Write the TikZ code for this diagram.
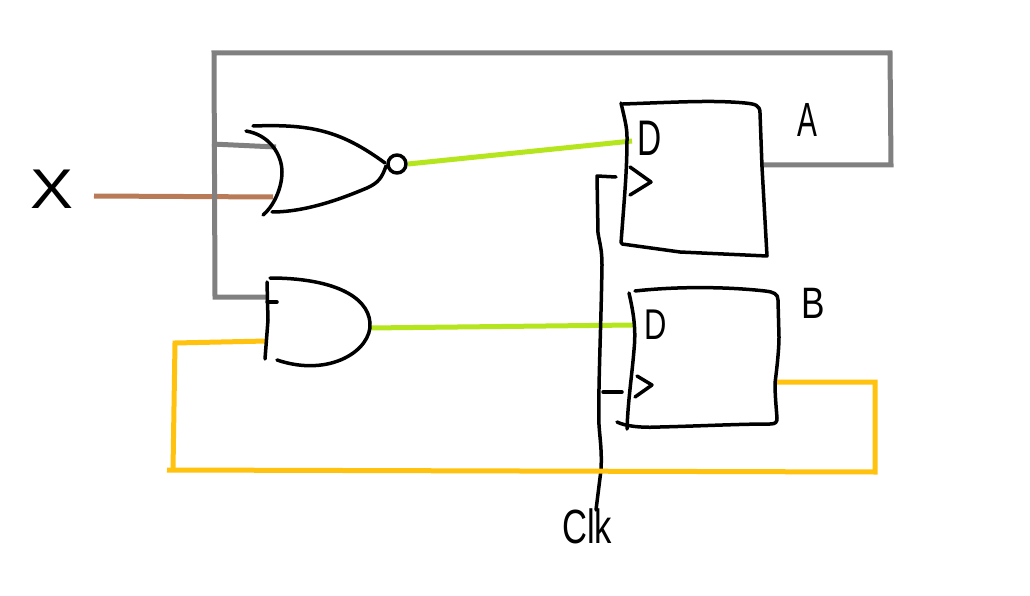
\documentclass[tikz,border=0pt]{standalone}
\usepackage{fontspec}
\setmainfont{Liberation Sans}
\definecolor{wgray}{HTML}{808080}
\definecolor{wbrown}{HTML}{B97A57}
\definecolor{wgreen}{HTML}{B5E61D}
\definecolor{wyellow}{HTML}{FFC20E}
\tikzset{
  ink/.style={draw=black,line width=3.5pt,line cap=round,line join=round},
  wire/.style={line width=5pt,line join=miter},
  lbl/.style={inner sep=0pt,text=black},
}
\newcommand{\lab}[3]{\fontsize{#1}{#1}\selectfont\scalebox{#2}[1]{#3}}
\begin{document}
\begin{tikzpicture}[x=1pt,y=-1pt]
\useasboundingbox[fill=white] (0,0) rectangle (1030,596);
% named ends
\coordinate (xout) at (94,196);
\coordinate (norA) at (276,147);
\coordinate (norB) at (273,197);
\coordinate (norO) at (408,164);
\coordinate (andA) at (267,297);
\coordinate (andB) at (267,341);
\coordinate (andO) at (369,328);
\coordinate (faD) at (632,141);
\coordinate (fbD) at (634,325);
\coordinate (fbQ) at (775,382);
\coordinate (faQ) at (760,165);
\coordinate (tap) at (212,144);
% brown, green wires
\draw[wire,wbrown] (xout) -- (norB);
\draw[wire,wgreen] (norO) -- (faD);
\draw[wire,wgreen] (andO) -- (fbD);
% gray wires
\draw[wire,wgray] (faQ) -- (891,165) -- (890,53) -- (214,53) -- (215,297) -- (andA);
\draw[wire,wgray] (tap) -- (norA);
% clock
\draw[ink] (616,177) -- (597,176) -- (598,233) .. controls (600,245) and (602,250) .. (602,265) .. controls (601,330) and (598,390) .. (599,425) .. controls (600,440) and (602,450) .. (601,470) -- (596,510);
\draw[ink] (603,392) -- (622,392);
% yellow wires
\draw[wire,wyellow] (andB) -- (175,343) -- (173,470);
\draw[wire,wyellow] (167,470) -- (875,472) -- (875,382) -- (fbQ);
% NOR gate
\draw[ink] (253,126) .. controls (310,124) and (340,130) .. (385,163);
\draw[ink] (272,212) .. controls (310,212) and (350,195) .. (367,188) .. controls (378,183) and (382,178) .. (386,166);
\draw[ink] (246,131) .. controls (270,135) and (282,155) .. (282,172) .. controls (282,190) and (272,208) .. (263,215);
\draw[ink] (397,164) circle (9);
% AND gate
\draw[ink] (267,282) -- (268,320) -- (265,359);
\draw[ink] (267,302) -- (277,302);
\draw[ink] (270,278) .. controls (330,278) and (368,295) .. (370,323) .. controls (372,350) and (330,378) .. (277,360);
% flip-flop A
\draw[ink] (621,103) .. controls (625,120) and (627,128) .. (627,137) .. controls (627,170) and (625,190) .. (621,243);
\draw[ink] (622,244) -- (680,252) -- (767,256) -- (762,167) -- (760,113) .. controls (760,105) and (755,104) .. (745,103) .. controls (713,100) and (680,102) .. (623,104);
\draw[ink] (630,167) -- (651,182) -- (630,195);
% flip-flop B
\draw[ink] (629,293) .. controls (634,315) and (636,330) .. (634,350) .. controls (632,375) and (628,400) .. (627,429);
\draw[ink] (617,422) .. controls (625,426) and (640,428) .. (660,427) .. controls (700,426) and (740,424) .. (770,424) .. controls (776,424) and (777,422) .. (777,418) .. controls (776,405) and (775,395) .. (775,383) .. controls (778,360) and (779,345) .. (779,337) -- (778,300) .. controls (778,294) and (774,292) .. (765,291) .. controls (730,287) and (680,286) .. (635,291);
\draw[ink] (637,376) -- (652,385) -- (635,397);
% labels
\node[lbl] (xlab) at (52,189) {\lab{56}{1.15}{X}};
\node[lbl] (dA) at (650,138) {\lab{50}{0.67}{D}};
\node[lbl] (dB) at (656,325) {\lab{43}{0.72}{D}};
\node[lbl] (aLab) at (807,120) {\lab{48}{0.62}{A}};
\node[lbl] (bLab) at (813,303) {\lab{44}{0.8}{B}};
\node[lbl] (clk) at (587,526) {\lab{48}{0.72}{Clk}};
\end{tikzpicture}
\end{document}
